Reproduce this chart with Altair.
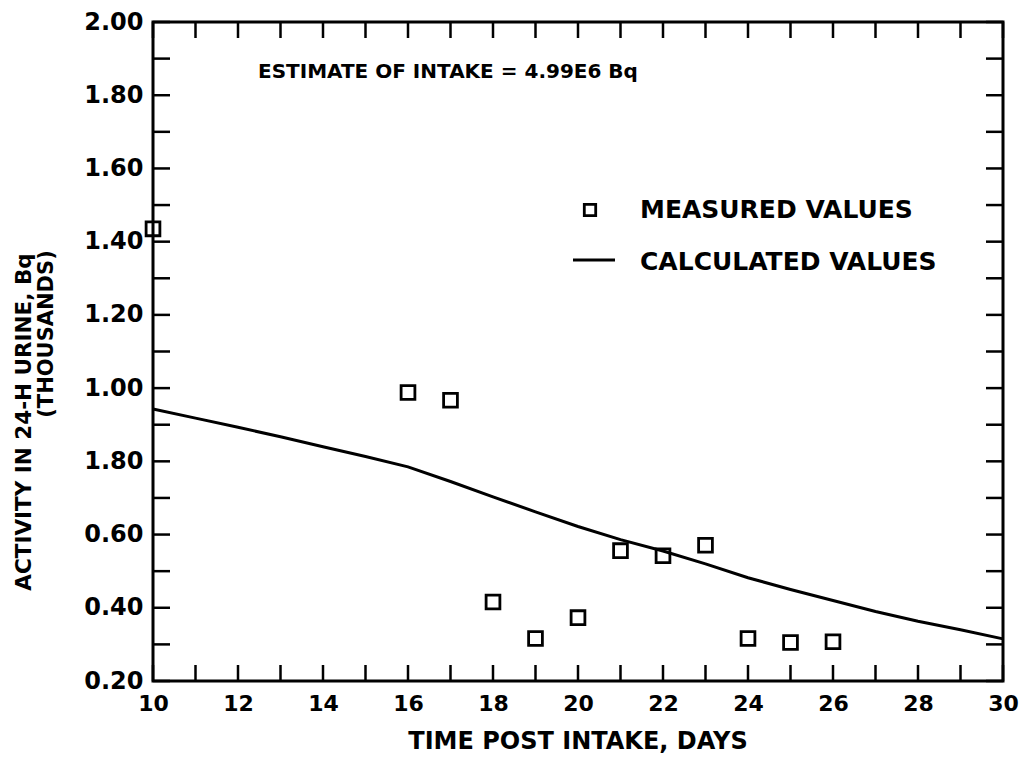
import altair as alt
import pandas as pd

# ---- data ----
measured_days = [10, 16, 17, 18, 19, 20, 21, 22, 23, 24, 25, 26]
measured_vals = [1.435, 0.988, 0.967, 0.416, 0.316, 0.373, 0.556, 0.542, 0.571, 0.316, 0.305, 0.307]

calc_days = [10, 11, 12, 13, 14, 15, 16, 17, 18, 19, 20, 21, 22, 23, 24, 25, 26, 27, 28, 29, 30]
calc_vals = [0.943, 0.918, 0.893, 0.867, 0.840, 0.813, 0.785, 0.745, 0.703, 0.662, 0.622,
             0.586, 0.555, 0.520, 0.482, 0.450, 0.420, 0.390, 0.363, 0.340, 0.315]

x_tick_vals = list(range(10, 31))
x_label_vals = [10, 12, 14, 16, 18, 20, 22, 24, 26, 28, 30]
y_tick_vals = [0.2, 0.3, 0.4, 0.5, 0.6, 0.7, 0.8, 0.9, 1.0, 1.1, 1.2, 1.3, 1.4,
               1.5, 1.6, 1.7, 1.8, 1.9, 2.0]
y_label_vals = [0.2, 0.4, 0.6, 0.8, 1.0, 1.2, 1.4, 1.6, 1.8, 2.0]

x_title = "TIME POST INTAKE, DAYS"
y_title_1 = "ACTIVITY IN 24-H URINE, Bq"
y_title_2 = "(THOUSANDS)"
estimate_text = "ESTIMATE OF INTAKE = 4.99E6 Bq"
legend_labels = ["MEASURED VALUES", "CALCULATED VALUES"]

FONT = "DejaVu Sans"
W, H = 850, 659

xs = alt.Scale(domain=[10, 30], nice=False, zero=False)
ys = alt.Scale(domain=[0.2, 2.0], nice=False, zero=False)

measured = pd.DataFrame({"day": measured_days, "val": measured_vals})
calc = pd.DataFrame({"day": calc_days, "val": calc_vals})
xt = pd.DataFrame({"day": x_tick_vals})
yt = pd.DataFrame({"val": y_tick_vals})

line = alt.Chart(calc).mark_line(color="black", strokeWidth=3).encode(
    x=alt.X("day:Q", scale=xs, axis=alt.Axis(
        values=x_label_vals, format="d", ticks=False, domain=False, grid=False,
        labelFontSize=22, labelFontWeight="bold", labelPadding=12, labelFlush=False,
        labelFont=FONT, labelColor="black", title=None)),
    y=alt.Y("val:Q", scale=ys, axis=alt.Axis(
        values=y_label_vals,
        labelExpr="abs(datum.value - 0.8) < 0.01 ? '1.80' : format(datum.value, '.2f')",
        ticks=False, domain=False, grid=False, labelFontSize=24, labelFontWeight="bold",
        labelPadding=10, labelFlush=False, labelFont=FONT, labelColor="black", title=None)),
)

points = alt.Chart(measured).mark_point(
    shape="square", filled=False, size=190, strokeWidth=2.8, color="black", opacity=1
).encode(x=alt.X("day:Q", scale=xs), y=alt.Y("val:Q", scale=ys))

tick_style = dict(color="black", strokeWidth=2.5)
bottom_ticks = alt.Chart(xt).mark_rule(**tick_style).encode(
    x=alt.X("day:Q", scale=xs), y=alt.value(H), y2=alt.value(H - 16))
top_ticks = alt.Chart(xt).mark_rule(**tick_style).encode(
    x=alt.X("day:Q", scale=xs), y=alt.value(0), y2=alt.value(16))
left_ticks = alt.Chart(yt).mark_rule(**tick_style).encode(
    y=alt.Y("val:Q", scale=ys), x=alt.value(0), x2=alt.value(17))
right_ticks = alt.Chart(yt).mark_rule(**tick_style).encode(
    y=alt.Y("val:Q", scale=ys), x=alt.value(W), x2=alt.value(W - 17))


def label(text, x, y, size, angle=0, align="center"):
    kw = dict(font=FONT, fontSize=size, fontWeight="bold", color="black",
              align=align, baseline="middle")
    if angle:
        kw["angle"] = angle
    return alt.Chart(pd.DataFrame({"t": [text]})).mark_text(**kw).encode(
        text="t:N", x=alt.value(x), y=alt.value(y))


xt_label = label(x_title, W / 2, 720, 24)
yt_label1 = label(y_title_1, -128, 400, 21.5, angle=270)
yt_label2 = label(y_title_2, -106, 312, 21, angle=270)
est_label = label(estimate_text, 105, 50, 20, align="left")
leg1 = label(legend_labels[0], 487, 188, 25, align="left")
leg2 = label(legend_labels[1], 487, 240, 25, align="left")

leg_sym = alt.Chart(pd.DataFrame({"t": [legend_labels[0]]})).mark_point(
    shape="square", filled=False, size=130, strokeWidth=2.8, color="black", opacity=1
).encode(x=alt.value(437), y=alt.value(188))
leg_line = alt.Chart(pd.DataFrame({"t": [legend_labels[1]]})).mark_rule(
    color="black", strokeWidth=3
).encode(x=alt.value(420), x2=alt.value(462), y=alt.value(238))

chart = alt.layer(
    line, points, bottom_ticks, top_ticks, left_ticks, right_ticks,
    xt_label, yt_label1, yt_label2, est_label, leg1, leg2, leg_sym, leg_line
).properties(
    width=W, height=H,
    autosize=alt.AutoSizeParams(type="none"),
    padding={"left": 145, "top": 14, "right": 20, "bottom": 80},
    background="white",
).configure_view(stroke="black", strokeWidth=3)

chart.save("out.html", embed_options={"renderer": "svg", "actions": False})
